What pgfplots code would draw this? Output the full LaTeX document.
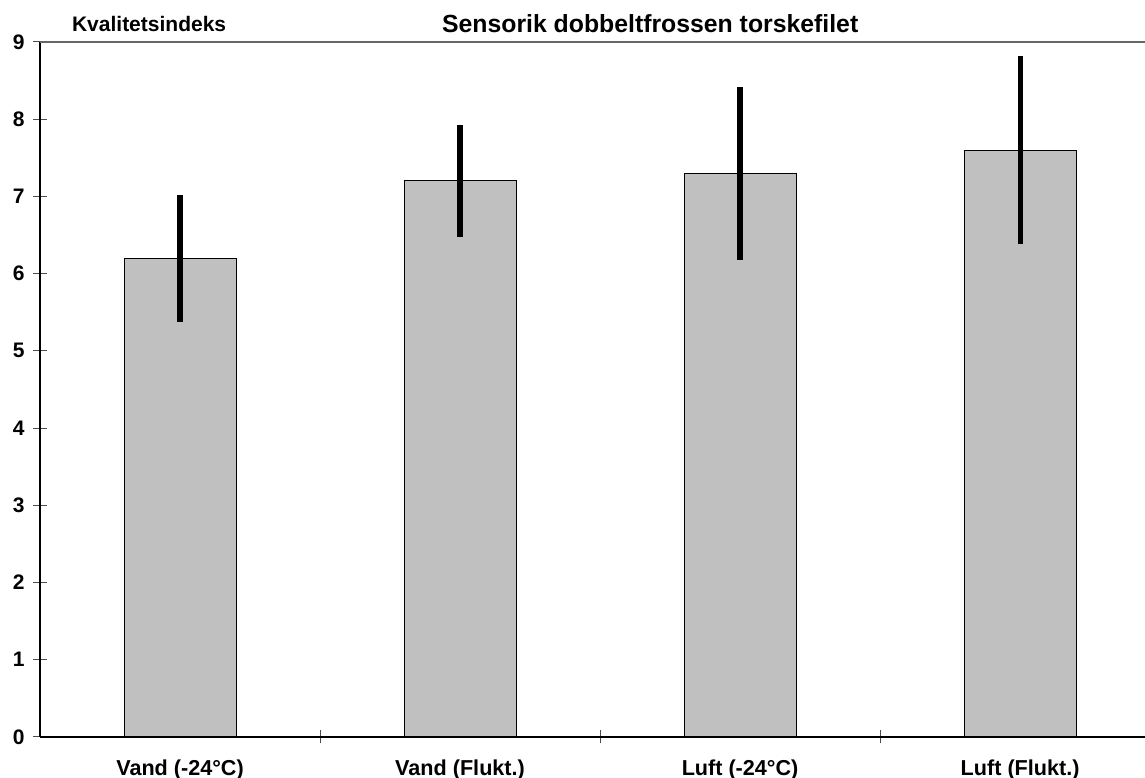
\documentclass[border=0pt]{standalone}
\usepackage{pgfplots}
\pgfplotsset{compat=1.18}
\usepackage{fontspec}
\setmainfont{Liberation Sans}
\begin{document}
\begin{tikzpicture}[x=1pt,y=1pt]
\begin{axis}[
  name=ax,
  scale only axis,
  width=552.5pt, height=347.5pt,
  xmin=-0.5, xmax=3.446,
  ymin=0, ymax=9,
  axis x line*=bottom,
  axis y line*=left,
  axis line style={black, line width=0.6pt},
  ytick={0,...,9},
  xtick={0.5,1.5,2.5},
  xticklabels={},
  extra x ticks={0,1,2,3},
  extra x tick labels={Vand (-24°C),Vand (Flukt.),Luft (-24°C),Luft (Flukt.)},
  extra x tick style={major tick length=0pt, tick label style={yshift=-8pt, font=\bfseries\fontsize{10.8}{12}\selectfont}},
  tick align=center,
  major tick length=6.5pt,
  tick style={black!70, line width=0.5pt},
  ticklabel style={font=\bfseries\fontsize{10.5}{12}\selectfont},
  /pgf/number format/assume math mode=true,
  yticklabel style={xshift=-1pt},
  clip=false,
]
\addplot[ybar, bar width=0.4, fill={rgb,255:red,192;green,192;blue,192}, draw=black, line width=0.5pt,
  error bars/.cd, y dir=both, y explicit, error mark=none,
  error bar style={line width=2.6pt, black}]
  table[x=x, y=y, y error=e] {
  x y   e
  0 6.2 0.82
  1 7.2 0.73
  2 7.3 1.12
  3 7.6 1.22
};
% frame line along the top of the plot area
\draw[gray!80!black, line width=0.6pt] (axis cs:-0.5,9) -- (axis cs:3.446,9);
% axis caption and chart title
\node[anchor=base west, font=\bfseries\fontsize{10.5}{12}\selectfont] at (axis cs:-0.5,9) [xshift=12.5pt, yshift=5pt] {Kvalitetsindeks};
\node[anchor=base, font=\bfseries\fontsize{12.4}{14}\selectfont] at (axis cs:1.679,9) [yshift=4.5pt] {Sensorik dobbeltfrossen torskefilet};
\end{axis}
\pgfresetboundingbox
\path[use as bounding box] ([shift={(-20pt,-20.5pt)}]ax.south west) rectangle ([shift={(0pt,21pt)}]ax.north east);
\end{tikzpicture}
\end{document}
